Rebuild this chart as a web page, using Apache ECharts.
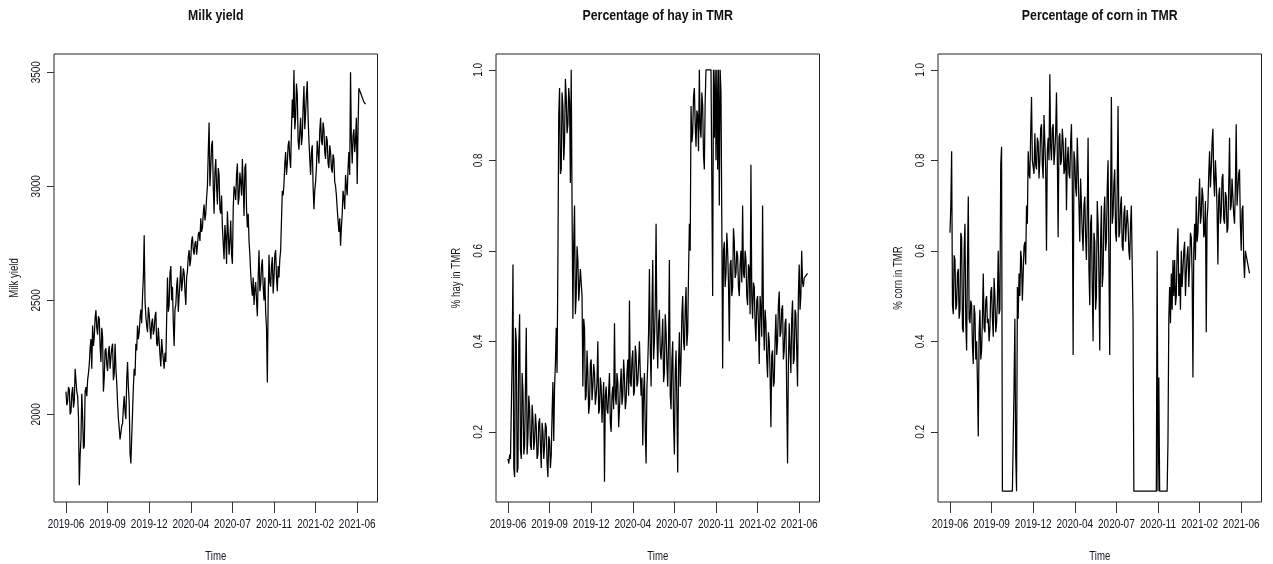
<!DOCTYPE html>
<html><head><meta charset="utf-8">
<script src="https://cdn.jsdelivr.net/npm/echarts@6/dist/echarts.min.js"></script>
<style>html,body{margin:0;padding:0;background:#fff}#c{width:1273px;height:564px}</style>
</head><body><div id="c"></div><script>
// Observation index (every 2nd daily record); tick labels every 100 records
const tickPositions = [0, 100, 200, 300, 400, 500, 600, 700];
const tickLabels = ['2019-06', '2019-09', '2019-12', '2020-04', '2020-07', '2020-11', '2021-02', '2021-06'];
const titles = ['Milk yield', 'Percentage of hay in TMR', 'Percentage of corn in TMR'];
const yNames = ['Milk yield', '% hay in TMR', '% corn in TMR'];
const xName = 'Time';
const milkTicks = [2000, 2500, 3000, 3500];
const pctTicks = [0.2, 0.4, 0.6, 0.8, 1.0];

const milkYield = [
  2100,2040,2060,2120,2110,2000,2010,2090,2120,2030,2060,2200,2150,2100,2080,1990,1690,1820,1890,2090,
  1990,1850,1860,2100,2120,2080,2150,2180,2220,2290,2330,2200,2390,2300,2340,2420,2457,2380,2350,2430,
  2420,2300,2230,2380,2340,2100,2160,2280,2290,2220,2190,2270,2300,2200,2250,2290,2310,2150,2180,2310,
  2200,2140,2050,1980,1940,1890,1920,1950,1960,2030,2080,2010,1980,2150,2230,2120,2050,1830,1785,1900,
  2010,2120,2200,2170,2310,2280,2390,2330,2360,2420,2460,2400,2520,2600,2785,2500,2430,2390,2360,2470,
  2440,2380,2330,2400,2420,2350,2370,2430,2450,2310,2300,2380,2320,2260,2210,2330,2280,2240,2200,2270,
  2230,2420,2600,2450,2480,2620,2650,2500,2560,2400,2300,2460,2480,2560,2600,2450,2520,2580,2650,2540,
  2580,2640,2620,2540,2480,2600,2630,2690,2720,2650,2680,2760,2780,2720,2700,2750,2760,2700,2740,2790,
  2800,2760,2860,2800,2820,2880,2920,2850,2880,2950,3000,3150,3280,3000,3080,3180,3200,3000,2880,3060,
  3120,3000,2920,3080,3050,2900,2880,2960,2820,2750,2680,2830,2780,2660,2890,2800,2700,2760,2850,2700,
  2660,2900,3000,2980,2940,3050,3100,2920,2950,3060,3020,2960,3120,3000,2870,3080,3100,2900,2820,2880,
  2760,2700,2620,2560,2520,2600,2480,2550,2580,2500,2430,2600,2720,2540,2570,2650,2680,2560,2500,2600,
  2450,2380,2140,2500,2700,2580,2560,2650,2690,2530,2600,2700,2720,2600,2540,2650,2600,2680,2720,2850,
  2980,2960,3010,3100,3150,3050,3100,3180,3200,3120,3080,3250,3380,3300,3510,3250,3300,3450,3400,3200,
  3160,3240,3300,3180,3220,3350,3440,3250,3320,3400,3460,3300,3200,3120,3050,3150,3180,3000,2900,2980,
  3020,3080,3200,3150,3100,3240,3300,3200,3180,3280,3250,3150,3120,3220,3200,3100,3080,3180,3150,3080,
  3060,3140,3120,3020,3000,2960,2900,2850,2800,2860,2740,2820,2880,2980,2950,2900,3050,3000,2960,3080,
  3150,3050,3500,3200,3100,3220,3250,3150,3200,3300,3010,3250,3430,3420,3410,3400,3390,3380,3370,3365,
  3360
];
const hayPct = [
  0.14,0.13,0.15,0.14,0.14,0.36,0.57,0.12,0.10,0.43,0.40,0.11,0.12,0.39,0.46,0.16,0.14,0.33,0.29,0.15,
  0.17,0.30,0.43,0.15,0.19,0.28,0.25,0.17,0.16,0.26,0.23,0.16,0.18,0.24,0.21,0.14,0.15,0.22,0.23,0.17,
  0.12,0.22,0.20,0.14,0.17,0.22,0.21,0.13,0.10,0.19,0.18,0.12,0.15,0.24,0.31,0.18,0.30,0.35,0.43,0.33,
  0.58,0.90,0.96,0.77,0.78,0.95,0.92,0.80,0.84,0.98,0.94,0.86,0.88,0.96,0.93,0.75,1.00,0.70,0.45,0.62,
  0.70,0.46,0.50,0.61,0.58,0.49,0.52,0.56,0.53,0.50,0.30,0.45,0.43,0.27,0.28,0.38,0.33,0.24,0.26,0.35,
  0.36,0.27,0.30,0.35,0.33,0.26,0.28,0.31,0.40,0.24,0.25,0.32,0.30,0.22,0.27,0.31,0.09,0.28,0.30,0.25,
  0.24,0.29,0.33,0.22,0.20,0.28,0.30,0.25,0.44,0.28,0.26,0.33,0.31,0.21,0.25,0.30,0.34,0.26,0.28,0.36,
  0.32,0.25,0.27,0.33,0.36,0.28,0.49,0.31,0.30,0.36,0.38,0.28,0.29,0.39,0.37,0.30,0.31,0.35,0.40,0.33,
  0.28,0.32,0.17,0.29,0.33,0.20,0.13,0.30,0.35,0.42,0.56,0.38,0.30,0.47,0.58,0.36,0.40,0.48,0.66,0.42,
  0.34,0.44,0.47,0.38,0.36,0.40,0.45,0.31,0.33,0.46,0.42,0.35,0.30,0.40,0.58,0.28,0.25,0.36,0.40,0.22,
  0.15,0.33,0.38,0.26,0.11,0.35,0.42,0.30,0.36,0.46,0.50,0.40,0.38,0.47,0.52,0.39,0.42,0.55,0.66,0.60,
  0.92,0.84,0.86,0.94,0.96,0.88,0.83,0.91,0.90,0.82,1.00,0.87,0.85,0.95,0.92,0.81,0.78,0.93,1.00,1.00,
  1.00,1.00,1.00,1.00,1.00,1.00,0.50,1.00,0.85,1.00,0.80,1.00,0.78,1.00,0.70,1.00,0.95,0.66,0.34,0.60,
  0.62,0.52,0.55,0.64,0.60,0.53,0.40,0.57,0.58,0.50,0.52,0.65,0.62,0.54,0.55,0.60,0.59,0.52,0.50,0.57,
  0.60,0.53,0.70,0.55,0.54,0.60,0.58,0.50,0.48,0.57,0.56,0.46,0.79,0.50,0.45,0.53,0.52,0.44,0.40,0.49,
  0.50,0.44,0.35,0.50,0.47,0.41,0.70,0.46,0.38,0.47,0.44,0.36,0.32,0.42,0.40,0.33,0.21,0.37,0.38,0.30,
  0.31,0.40,0.46,0.37,0.40,0.48,0.51,0.41,0.42,0.47,0.48,0.36,0.38,0.44,0.45,0.28,0.13,0.35,0.44,0.38,
  0.33,0.45,0.49,0.35,0.36,0.47,0.46,0.38,0.30,0.50,0.57,0.47,0.50,0.60,0.53,0.52,0.54,0.54,0.545,0.548,
  0.55
];
const cornPct = [
  0.64,0.70,0.82,0.48,0.46,0.59,0.58,0.47,0.48,0.55,0.56,0.45,0.47,0.64,0.63,0.43,0.42,0.60,0.66,0.44,
  0.38,0.57,0.72,0.45,0.44,0.49,0.48,0.39,0.35,0.48,0.46,0.36,0.40,0.31,0.19,0.42,0.47,0.36,0.38,0.45,
  0.55,0.43,0.42,0.49,0.50,0.44,0.45,0.40,0.43,0.51,0.52,0.45,0.41,0.54,0.50,0.42,0.44,0.49,0.60,0.46,
  0.47,0.79,0.83,0.069,0.069,0.069,0.069,0.069,0.069,0.069,0.069,0.069,0.069,0.069,0.069,0.069,0.069,0.30,0.45,0.15,
  0.069,0.52,0.45,0.55,0.50,0.60,0.58,0.49,0.55,0.61,0.62,0.57,0.70,0.66,0.82,0.77,0.76,0.86,0.94,0.80,
  0.80,0.77,0.86,0.79,0.78,0.85,0.84,0.76,0.80,0.87,0.88,0.79,0.76,0.90,0.84,0.78,0.60,0.82,0.85,0.80,
  0.99,0.83,0.80,0.87,0.88,0.79,0.82,0.86,0.95,0.81,0.63,0.85,0.86,0.79,0.80,0.87,0.84,0.77,0.78,0.85,
  0.69,0.80,0.83,0.77,0.76,0.84,0.88,0.75,0.37,0.82,0.80,0.74,0.72,0.85,0.78,0.70,0.62,0.76,0.70,0.64,
  0.60,0.70,0.72,0.63,0.58,0.69,0.85,0.56,0.48,0.66,0.68,0.52,0.40,0.64,0.62,0.47,0.50,0.71,0.66,0.55,
  0.38,0.62,0.70,0.52,0.55,0.68,0.72,0.60,0.62,0.74,0.80,0.58,0.37,0.70,0.94,0.66,0.68,0.75,0.78,0.64,
  0.62,0.74,0.92,0.63,0.64,0.70,0.72,0.61,0.60,0.68,0.70,0.62,0.62,0.69,0.66,0.60,0.58,0.66,0.70,0.57,
  0.45,0.069,0.069,0.069,0.069,0.069,0.069,0.069,0.069,0.069,0.069,0.069,0.069,0.069,0.069,0.069,0.069,0.069,0.069,0.069,
  0.069,0.069,0.069,0.069,0.069,0.069,0.069,0.069,0.069,0.60,0.069,0.32,0.069,0.069,0.069,0.069,0.069,0.069,0.069,0.069,
  0.069,0.069,0.18,0.45,0.52,0.44,0.55,0.47,0.58,0.50,0.58,0.48,0.50,0.60,0.65,0.50,0.55,0.47,0.60,0.52,
  0.52,0.60,0.62,0.50,0.55,0.59,0.61,0.52,0.57,0.64,0.63,0.55,0.32,0.60,0.66,0.58,0.72,0.62,0.64,0.70,
  0.76,0.66,0.68,0.74,0.72,0.63,0.64,0.71,0.42,0.67,0.70,0.77,0.82,0.74,0.78,0.84,0.87,0.76,0.72,0.80,
  0.76,0.69,0.57,0.72,0.74,0.66,0.68,0.76,0.77,0.67,0.66,0.73,0.72,0.64,0.65,0.74,0.85,0.69,0.70,0.76,
  0.76,0.68,0.66,0.74,0.88,0.70,0.70,0.77,0.78,0.66,0.60,0.69,0.70,0.58,0.54,0.60,0.59,0.58,0.57,0.56,
  0.55
];
const sampleStep = 2; // records between stored observations

const FONT = "'Liberation Sans', Arial, sans-serif";
const TXT = '#15151f';
const toPairs = arr => arr.map((v, i) => [i * sampleStep, v]);

const panels = [
  { left: 54, data: milkYield, ticks: milkTicks, min: 1616, max: 3580, fmt: v => String(v) },
  { left: 496, data: hayPct, ticks: pctTicks, min: 0.045, max: 1.035, fmt: v => v.toFixed(1) },
  { left: 938, data: cornPct, ticks: pctTicks, min: 0.045, max: 1.035, fmt: v => v.toFixed(1) }
];
const W = 323.5, TOP = 54, H = 448;

const chart = echarts.init(document.getElementById('c'));
chart.setOption({
  animation: false,
  backgroundColor: '#fff',
  grid: panels.map(p => ({
    left: p.left, top: TOP, width: W, height: H, show: true,
    borderColor: '#222', borderWidth: 1, backgroundColor: 'transparent'
  })),
  xAxis: panels.map((p, i) => ({
    type: 'value', gridIndex: i, min: -28.8, max: 748.8,
    axisLine: { show: false, onZero: false }, splitLine: { show: false },
    axisTick: { show: true, customValues: tickPositions, length: 11, lineStyle: { color: '#333' } },
    axisLabel: { show: false }
  })),
  yAxis: panels.map((p, i) => ({
    type: 'value', gridIndex: i, min: p.min, max: p.max,
    axisLine: { show: false, onZero: false }, splitLine: { show: false },
    axisTick: { show: true, customValues: p.ticks, length: 7, lineStyle: { color: '#333' } },
    axisLabel: { show: false }
  })),
  series: panels.map((p, i) => ({
    type: 'line', xAxisIndex: i, yAxisIndex: i, data: toPairs(p.data),
    showSymbol: false, silent: true,
    lineStyle: { width: 1.25, color: '#000' }
  }))
});

// Text drawn as condensed graphic text, placed through the axes' own scales
const SX = 0.8;
const texts = [];
function txt(text, x, y, size, opts) {
  texts.push(Object.assign({
    type: 'text', x: x, y: y, scaleX: SX, silent: true,
    style: { text: text, fontSize: size, fontFamily: FONT, fill: TXT, align: 'center', verticalAlign: 'middle' }
  }, opts || {}));
}
panels.forEach((p, i) => {
  const xL = chart.convertToPixel({ xAxisIndex: i }, -28.8);
  const xR = chart.convertToPixel({ xAxisIndex: i }, 748.8);
  const yB = chart.convertToPixel({ yAxisIndex: i }, p.min);
  const yT = chart.convertToPixel({ yAxisIndex: i }, p.max);
  const cx = (xL + xR) / 2, cy = (yB + yT) / 2;
  texts.push({ type: 'text', x: cx, y: 16, scaleX: 0.82, silent: true,
    style: { text: titles[i], fontSize: 15, fontWeight: 'bold', fontFamily: FONT, fill: '#111', align: 'center', verticalAlign: 'middle' } });
  tickPositions.forEach((t, k) => {
    txt(tickLabels[k], chart.convertToPixel({ xAxisIndex: i }, t), yB + 23, 12.5);
  });
  txt(xName, cx, yB + 55, 12);
  p.ticks.forEach(t => {
    txt(p.fmt(t), xL - 17.5, chart.convertToPixel({ yAxisIndex: i }, t), 12.5, { rotation: Math.PI / 2 });
  });
  txt(yNames[i], xL - 39, cy, 12, { rotation: Math.PI / 2 });
});
chart.setOption({ graphic: texts });
</script></body></html>
